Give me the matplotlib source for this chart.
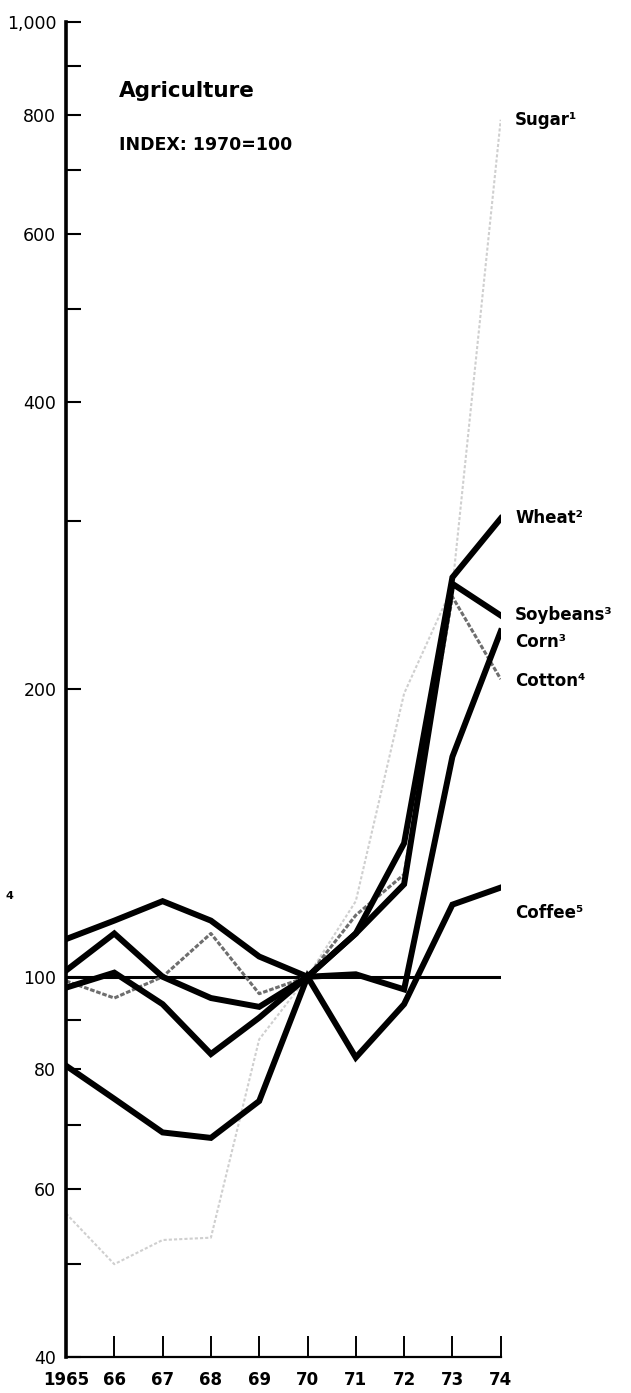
import numpy as np
import matplotlib.pyplot as plt
from matplotlib.ticker import FixedLocator, NullFormatter

# index values, 1970 = 100
years = [1965, 1966, 1967, 1968, 1969, 1970, 1971, 1972, 1973, 1974]
sugar = [56.5, 50, 53, 53.3, 86, 100, 120, 198, 256, 790]
wheat = [109.5, 114.5, 120, 114.5, 105, 100, 111, 138, 262, 302]
soybeans = [101.5, 111, 100, 95, 93, 100, 111, 125, 258, 239]
corn = [97.4, 101, 93.6, 83, 90.6, 100, 100.6, 97, 170, 230]
cotton = [99, 95, 100, 111, 96, 100, 116, 128, 250, 205]
coffee = [80.7, 74.5, 68.7, 67.8, 74.1, 100, 82.3, 93.6, 119, 124]

labels = ['Sugar\u00b9', 'Wheat\u00b2', 'Soybeans\u00b3', 'Corn\u00b3', 'Cotton\u2074', 'Coffee\u2075']
label_y = [790, 302, 239, 224, 204, 116.5]

y_major = [40, 60, 80, 100, 200, 400, 600, 800, 1000]
y_major_lab = ['40', '60', '80', '100', '200', '400', '600', '800', '1,000']
y_minor = [50, 70, 90, 300, 500, 700, 900]
x_lab = ['1965', '66', '67', '68', '69', '70', '71', '72', '73', '74']

plt.rcParams['font.family'] = ['DejaVu Sans']

fig = plt.figure(figsize=(6.31, 13.93), dpi=100)
ax = fig.add_axes([66/631, 36.3/1393, 434.7/631, 1334.7/1393])
ax.set_yscale('log')

ax.axhline(100, color='black', lw=2.2, zorder=2)
ax.plot(years, sugar, color='#cfcfcf', lw=1.5, ls=(0, (1.5, 1)), zorder=1)
ax.plot(years, cotton, color='#6e6e6e', lw=2.2, ls=(0, (1.5, 0.6)), zorder=2)
for s in [wheat, soybeans, corn, coffee]:
    ax.plot(years, s, color='black', lw=4.3, zorder=3, solid_joinstyle='miter')

ax.set_xlim(1965, 1974)
ax.set_ylim(40, 1000)

ax.yaxis.set_major_locator(FixedLocator(y_major))
ax.set_yticklabels(y_major_lab)
ax.yaxis.set_minor_locator(FixedLocator(y_minor))
ax.yaxis.set_minor_formatter(NullFormatter())
ax.tick_params(axis='y', which='both', direction='in', length=11, width=1.5,
               labelsize=12.5, pad=7)

ax.set_xticks(years)
ax.set_xticklabels(x_lab, fontweight='bold')
ax.tick_params(axis='x', direction='in', length=15, width=1.4, labelsize=12, pad=10)

for side in ['top', 'right']:
    ax.spines[side].set_visible(False)
ax.spines['left'].set_linewidth(2.6)
ax.spines['bottom'].set_linewidth(1.6)

for lab, yv in zip(labels, label_y):
    ax.text(1974.3, yv, lab, fontsize=12, fontweight='bold', va='center', ha='left')

ax.text(1966.1, 847, 'Agriculture', fontsize=15.5, fontweight='bold', va='center')
ax.text(1966.1, 743, 'INDEX: 1970=100', fontsize=12.5, fontweight='bold', va='center')
fig.text(6/631, 1 - 896/1393, '4', fontsize=8, fontweight='bold', va='center')

fig.savefig('out.png', dpi=100)
